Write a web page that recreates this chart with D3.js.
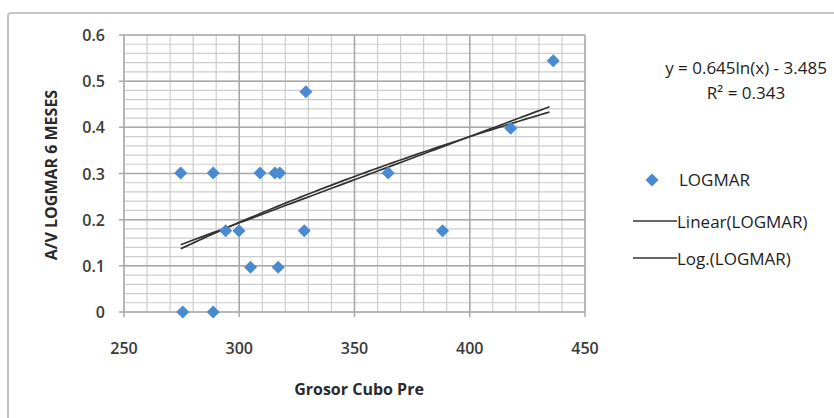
<!DOCTYPE html>
<html>
<head>
<meta charset="utf-8">
<script src="https://cdn.jsdelivr.net/npm/d3@7"></script>
<style>
  body { margin: 0; background: #fff; }
  svg { font-family: "Open Sans", "DejaVu Sans", sans-serif; }
</style>
</head>
<body>
<svg id="chart" width="834" height="418"></svg>
<script>
//------------------------------------------------------------------------------
//Data
//------------------------------------------------------------------------------
let grosorCubo = [274.6, 288.7, 309, 315.5, 317.6, 364.6, 294.1, 299.9, 328.2, 388.2, 304.9, 316.9, 275.5, 288.7, 328.9, 436.2, 417.8];
let logmar     = [0.301, 0.301, 0.301, 0.301, 0.301, 0.301, 0.176, 0.176, 0.176, 0.176, 0.097, 0.097, 0, 0, 0.477, 0.544, 0.398];

let xTicks = [250, 300, 350, 400, 450];
let yTicks = [0, 0.1, 0.2, 0.3, 0.4, 0.5, 0.6];

let legendLabels = ["LOGMAR", "Linear(LOGMAR)", "Log.(LOGMAR)"];
let equationLines = ["y = 0.645ln(x) - 3.485", "R² = 0.343"];
let xTitle = "Grosor Cubo Pre";
let yTitle = "A/V LOGMAR 6 MESES";


main()


//------------------------------------------------------------------------------
//Main
//------------------------------------------------------------------------------
function main()
{
    var svg = d3.select("#chart");

    // outer chart frame
    svg.append("rect")
        .attr("x", 8).attr("y", 13)
        .attr("width", 840).attr("height", 420)
        .attr("rx", 3)
        .attr("fill", "none")
        .attr("stroke", "#c6c6c6")
        .attr("stroke-width", 2);

    var x = d3.scaleLinear().domain([250, 450]).range([124, 585]);
    var y = d3.scaleLinear().domain([0, 0.6]).range([312, 35]);

    var g = svg.append("g");

    // minor grid
    g.selectAll(".vminor")
        .data(d3.range(250, 451, 10))
        .enter().append("line")
        .attr("x1", d => x(d)).attr("x2", d => x(d))
        .attr("y1", y(0)).attr("y2", y(0.6))
        .attr("stroke", "#cdcdcd").attr("stroke-width", 1.2);

    g.selectAll(".hminor")
        .data(d3.range(0, 0.601, 0.02))
        .enter().append("line")
        .attr("x1", x(250)).attr("x2", x(450))
        .attr("y1", d => y(d)).attr("y2", d => y(d))
        .attr("stroke", "#cdcdcd").attr("stroke-width", 1.2);

    // major grid
    g.selectAll(".vmajor")
        .data(xTicks)
        .enter().append("line")
        .attr("x1", d => x(d)).attr("x2", d => x(d))
        .attr("y1", y(0) + 5).attr("y2", y(0.6))
        .attr("stroke", "#a8a8a8").attr("stroke-width", 1.5);

    g.selectAll(".hmajor")
        .data(yTicks)
        .enter().append("line")
        .attr("x1", x(250) - 5).attr("x2", x(450))
        .attr("y1", d => y(d)).attr("y2", d => y(d))
        .attr("stroke", "#a8a8a8").attr("stroke-width", 1.5);

    // tick labels
    g.selectAll(".xlab")
        .data(xTicks)
        .enter().append("text")
        .attr("x", d => x(d)).attr("y", 354)
        .attr("text-anchor", "middle")
        .attr("font-size", 16).attr("font-weight", 600)
        .attr("fill", "#3a3a3a")
        .text(d => d);

    g.selectAll(".ylab")
        .data(yTicks)
        .enter().append("text")
        .attr("x", 105).attr("y", d => y(d) + 6)
        .attr("text-anchor", "end")
        .attr("font-size", 16).attr("font-weight", 600)
        .attr("fill", "#3a3a3a")
        .text(d => d3.format("")(d));

    // trendlines
    var xs = d3.range(d3.min(grosorCubo), d3.max(grosorCubo) + 0.01, 2);
    var lin = linearFit(grosorCubo, logmar);
    var lg = linearFit(grosorCubo.map(Math.log), logmar);

    var line = d3.line().x(d => x(d[0])).y(d => y(d[1]));
    g.append("path")
        .attr("d", line(xs.map(v => [v, lin.a + lin.b * v])))
        .attr("fill", "none").attr("stroke", "#333").attr("stroke-width", 1.7);
    g.append("path")
        .attr("d", line(xs.map(v => [v, lg.a + lg.b * Math.log(v)])))
        .attr("fill", "none").attr("stroke", "#333").attr("stroke-width", 1.7);

    // points
    var diamond = d3.symbol().type(d3.symbolSquare).size(85);
    g.selectAll(".pt")
        .data(grosorCubo.map((v, i) => [v, logmar[i]]))
        .enter().append("path")
        .attr("d", diamond)
        .attr("transform", d => "translate(" + x(d[0]) + "," + y(d[1]) + ") rotate(45)")
        .attr("fill", "#4a8ad0");

    // axis titles
    svg.append("text")
        .attr("x", 359).attr("y", 395)
        .attr("text-anchor", "middle")
        .attr("font-size", 16).attr("font-weight", "bold")
        .attr("fill", "#2a2a2a")
        .text(xTitle);

    svg.append("text")
        .attr("transform", "translate(57,175) rotate(-90)")
        .attr("text-anchor", "middle")
        .attr("font-size", 16).attr("font-weight", "bold")
        .attr("fill", "#2a2a2a")
        .text(yTitle);

    // equation
    svg.selectAll(".eq")
        .data(equationLines)
        .enter().append("text")
        .attr("x", 746).attr("y", (d, i) => 74 + i * 25)
        .attr("text-anchor", "middle")
        .attr("font-size", 17)
        .attr("fill", "#1e1e1e")
        .text(d => d);

    // legend
    var lgd = svg.append("g");
    lgd.append("path")
        .attr("d", diamond)
        .attr("transform", "translate(652,180) rotate(45)")
        .attr("fill", "#4a8ad0");
    [221, 258].forEach(ly => {
        lgd.append("line")
            .attr("x1", 633).attr("x2", 677)
            .attr("y1", ly).attr("y2", ly)
            .attr("stroke", "#333").attr("stroke-width", 1.7);
    });
    lgd.selectAll("text")
        .data(legendLabels)
        .enter().append("text")
        .attr("x", (d, i) => i == 0 ? 679 : 677)
        .attr("y", (d, i) => [186, 228, 265][i])
        .attr("font-size", 17)
        .attr("fill", "#1e1e1e")
        .text(d => d);
}


//------------------------------------------------------------------------------
//Least squares fit: y = a + b*x
//------------------------------------------------------------------------------
function linearFit(xv, yv)
{
    let mx = d3.mean(xv), my = d3.mean(yv);
    let sxy = 0, sxx = 0;
    for (let i = 0; i < xv.length; i++)
    {
        sxy += (xv[i] - mx) * (yv[i] - my);
        sxx += (xv[i] - mx) * (xv[i] - mx);
    }
    let b = sxy / sxx;
    return {a: my - b * mx, b: b};
}
</script>
</body>
</html>
